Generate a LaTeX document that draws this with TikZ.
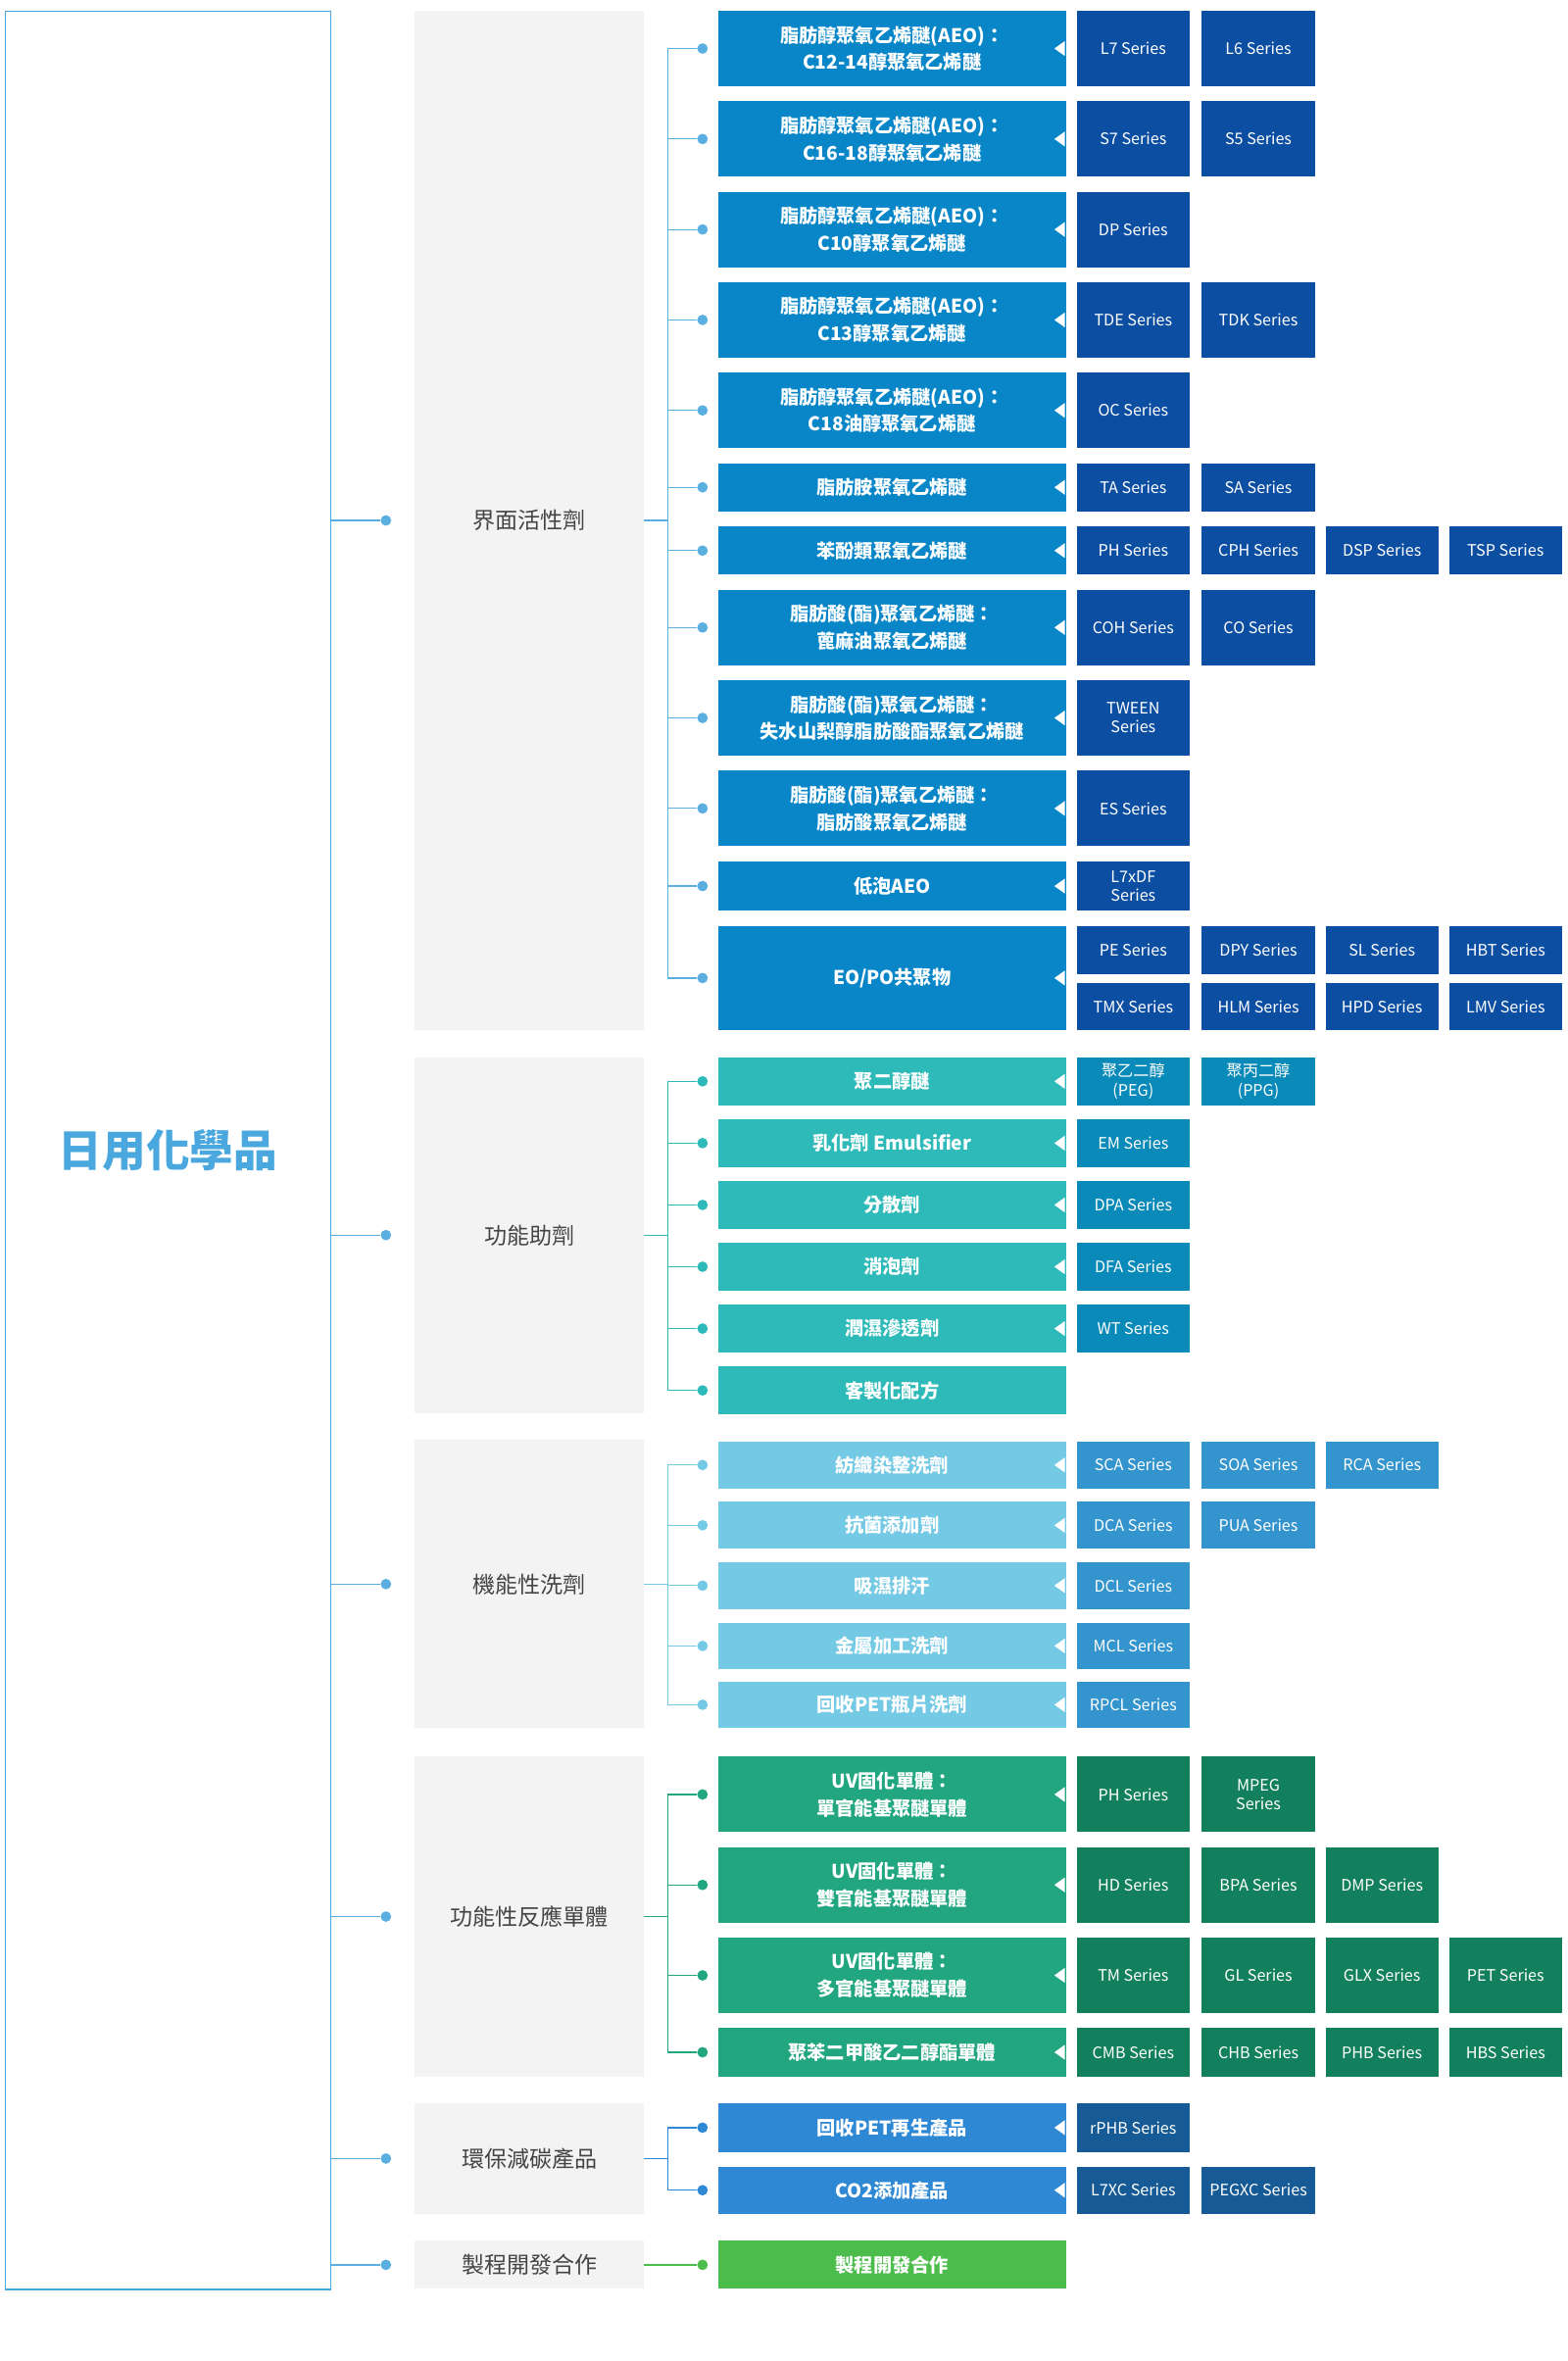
\documentclass[tikz,border=0pt]{standalone}
\usepackage{fontspec}
\setmainfont{Noto Sans CJK TC}
\usetikzlibrary{positioning}

\definecolor{rootblue}{HTML}{4AA8DE}
\definecolor{grayfill}{HTML}{F3F3F3}
\definecolor{graytext}{HTML}{444444}
\definecolor{kidA}{HTML}{0886C8}
\definecolor{serA}{HTML}{0B4EA2}
\definecolor{lineA}{HTML}{5AAEE0}
\definecolor{kidB}{HTML}{2EBAB9}
\definecolor{serB}{HTML}{0A8AB8}
\definecolor{kidC}{HTML}{74C9E5}
\definecolor{serC}{HTML}{3394CE}
\definecolor{kidD}{HTML}{21A67F}
\definecolor{serD}{HTML}{12805D}
\definecolor{kidE}{HTML}{2E88D4}
\definecolor{serE}{HTML}{165A96}
\definecolor{kidF}{HTML}{4CBC4C}

\tikzset{
  kid/.style={anchor=north west, minimum width=231pt, inner sep=0pt, text=white,
    align=center, font=\fontsize{12.5}{18}\selectfont\bfseries},
  ser/.style={anchor=north west, minimum width=75pt, inner sep=0pt, text=white,
    align=center, font=\fontsize{10.5}{12.5}\selectfont},
  grp/.style={anchor=north west, fill=grayfill, minimum width=152pt, inner sep=0pt,
    text=graytext, font=\fontsize{15}{18}\selectfont},
  dot/.style={circle, inner sep=0pt, minimum size=7pt},
  notch/.style={fill=white, draw=none}
}

% kid box: name, top, height, colour, text
\newcommand\kidbox[5]{
  \node[kid, fill=#4, minimum height=#3pt] (#1) at (476,#2) {#5};
  \fill[notch] ([xshift=-1pt]#1.east) ++(0,-5) -- ++(-7,5) -- ++(7,5) -- cycle;
}
% series box: name, column x, top, height, colour, text
\newcommand\serbox[6]{
  \node[ser, fill=#5, minimum height=#4pt] (#1) at (#2,#3) {#6};
}

\begin{document}
\begin{tikzpicture}[x=1pt,y=-1pt]
\useasboundingbox (0,0) rectangle (1040,1566);

\node[draw=rootblue, line width=1pt, anchor=north west, minimum width=216pt, minimum height=1511pt,
  text=rootblue, font=\fontsize{29}{32}\selectfont\bfseries] (root) at (3,7) {日用化學品};

% groups
\node[grp, minimum height=676pt] (g1) at (275,7) {界面活性劑};
\node[grp, minimum height=236pt] (g2) at (275,701) {功能助劑};
\node[grp, minimum height=191pt] (g3) at (275,955) {機能性洗劑};
\node[grp, minimum height=212pt] (g4) at (275,1165) {功能性反應單體};
\node[grp, minimum height=73pt] (g5) at (275,1395) {環保減碳產品};
\node[grp, minimum height=32pt] (g6) at (275,1486) {製程開發合作};

% surfactants
\kidbox{a1}{7}{50}{kidA}{脂肪醇聚氧乙烯醚(AEO)：\\C12-14醇聚氧乙烯醚}
\kidbox{a2}{67}{50}{kidA}{脂肪醇聚氧乙烯醚(AEO)：\\C16-18醇聚氧乙烯醚}
\kidbox{a3}{127}{50}{kidA}{脂肪醇聚氧乙烯醚(AEO)：\\C10醇聚氧乙烯醚}
\kidbox{a4}{187}{50}{kidA}{脂肪醇聚氧乙烯醚(AEO)：\\C13醇聚氧乙烯醚}
\kidbox{a5}{247}{50}{kidA}{脂肪醇聚氧乙烯醚(AEO)：\\C18油醇聚氧乙烯醚}
\kidbox{a6}{307}{32}{kidA}{脂肪胺聚氧乙烯醚}
\kidbox{a7}{349}{32}{kidA}{苯酚類聚氧乙烯醚}
\kidbox{a8}{391}{50}{kidA}{脂肪酸(酯)聚氧乙烯醚：\\蓖麻油聚氧乙烯醚}
\kidbox{a9}{451}{50}{kidA}{脂肪酸(酯)聚氧乙烯醚：\\失水山梨醇脂肪酸酯聚氧乙烯醚}
\kidbox{a10}{511}{50}{kidA}{脂肪酸(酯)聚氧乙烯醚：\\脂肪酸聚氧乙烯醚}
\kidbox{a11}{571}{33}{kidA}{低泡AEO}
\kidbox{a12}{614}{69}{kidA}{EO/PO共聚物}

\serbox{s1a}{714}{7}{50}{serA}{L7 Series}
\serbox{s1b}{797}{7}{50}{serA}{L6 Series}
\serbox{s2a}{714}{67}{50}{serA}{S7 Series}
\serbox{s2b}{797}{67}{50}{serA}{S5 Series}
\serbox{s3a}{714}{127}{50}{serA}{DP Series}
\serbox{s4a}{714}{187}{50}{serA}{TDE Series}
\serbox{s4b}{797}{187}{50}{serA}{TDK Series}
\serbox{s5a}{714}{247}{50}{serA}{OC Series}
\serbox{s6a}{714}{307}{32}{serA}{TA Series}
\serbox{s6b}{797}{307}{32}{serA}{SA Series}
\serbox{s7a}{714}{349}{32}{serA}{PH Series}
\serbox{s7b}{797}{349}{32}{serA}{CPH Series}
\serbox{s7c}{879}{349}{32}{serA}{DSP Series}
\serbox{s7d}{961}{349}{32}{serA}{TSP Series}
\serbox{s8a}{714}{391}{50}{serA}{COH Series}
\serbox{s8b}{797}{391}{50}{serA}{CO Series}
\serbox{s9a}{714}{451}{50}{serA}{TWEEN\\Series}
\serbox{s10a}{714}{511}{50}{serA}{ES Series}
\serbox{s11a}{714}{571}{33}{serA}{L7xDF\\Series}
\serbox{s12a}{714}{614}{32}{serA}{PE Series}
\serbox{s12b}{797}{614}{32}{serA}{DPY Series}
\serbox{s12c}{879}{614}{32}{serA}{SL Series}
\serbox{s12d}{961}{614}{32}{serA}{HBT Series}
\serbox{s12e}{714}{652}{31}{serA}{TMX Series}
\serbox{s12f}{797}{652}{31}{serA}{HLM Series}
\serbox{s12g}{879}{652}{31}{serA}{HPD Series}
\serbox{s12h}{961}{652}{31}{serA}{LMV Series}

% additives
\kidbox{b1}{701}{32}{kidB}{聚二醇醚}
\kidbox{b2}{742}{32}{kidB}{乳化劑 Emulsifier}
\kidbox{b3}{783}{32}{kidB}{分散劑}
\kidbox{b4}{824}{32}{kidB}{消泡劑}
\kidbox{b5}{865}{32}{kidB}{潤濕滲透劑}
\node[kid, fill=kidB, minimum height=32pt] (b6) at (476,906) {客製化配方};

\serbox{t1a}{714}{701}{32}{serB}{聚乙二醇\\(PEG)}
\serbox{t1b}{797}{701}{32}{serB}{聚丙二醇\\(PPG)}
\serbox{t2a}{714}{742}{32}{serB}{EM Series}
\serbox{t3a}{714}{783}{32}{serB}{DPA Series}
\serbox{t4a}{714}{824}{32}{serB}{DFA Series}
\serbox{t5a}{714}{865}{32}{serB}{WT Series}

% detergents
\kidbox{c1}{956}{31}{kidC}{紡織染整洗劑}
\kidbox{c2}{996}{31}{kidC}{抗菌添加劑}
\kidbox{c3}{1036}{31}{kidC}{吸濕排汗}
\kidbox{c4}{1076}{31}{kidC}{金屬加工洗劑}
\kidbox{c5}{1115}{31}{kidC}{回收PET瓶片洗劑}

\serbox{u1a}{714}{956}{31}{serC}{SCA Series}
\serbox{u1b}{797}{956}{31}{serC}{SOA Series}
\serbox{u1c}{879}{956}{31}{serC}{RCA Series}
\serbox{u2a}{714}{996}{31}{serC}{DCA Series}
\serbox{u2b}{797}{996}{31}{serC}{PUA Series}
\serbox{u3a}{714}{1036}{31}{serC}{DCL Series}
\serbox{u4a}{714}{1076}{31}{serC}{MCL Series}
\serbox{u5a}{714}{1115}{31}{serC}{RPCL Series}

% monomers
\kidbox{d1}{1165}{50}{kidD}{UV固化單體：\\單官能基聚醚單體}
\kidbox{d2}{1225}{50}{kidD}{UV固化單體：\\雙官能基聚醚單體}
\kidbox{d3}{1285}{50}{kidD}{UV固化單體：\\多官能基聚醚單體}
\kidbox{d4}{1345}{32}{kidD}{聚苯二甲酸乙二醇酯單體}

\serbox{v1a}{714}{1165}{50}{serD}{PH Series}
\serbox{v1b}{797}{1165}{50}{serD}{MPEG\\Series}
\serbox{v2a}{714}{1225}{50}{serD}{HD Series}
\serbox{v2b}{797}{1225}{50}{serD}{BPA Series}
\serbox{v2c}{879}{1225}{50}{serD}{DMP Series}
\serbox{v3a}{714}{1285}{50}{serD}{TM Series}
\serbox{v3b}{797}{1285}{50}{serD}{GL Series}
\serbox{v3c}{879}{1285}{50}{serD}{GLX Series}
\serbox{v3d}{961}{1285}{50}{serD}{PET Series}
\serbox{v4a}{714}{1345}{32}{serD}{CMB Series}
\serbox{v4b}{797}{1345}{32}{serD}{CHB Series}
\serbox{v4c}{879}{1345}{32}{serD}{PHB Series}
\serbox{v4d}{961}{1345}{32}{serD}{HBS Series}

% green products
\kidbox{e1}{1395}{32}{kidE}{回收PET再生產品}
\kidbox{e2}{1437}{31}{kidE}{CO2添加產品}
\serbox{w1a}{714}{1395}{32}{serE}{rPHB Series}
\serbox{w2a}{714}{1437}{31}{serE}{L7XC Series}
\serbox{w2b}{797}{1437}{31}{serE}{PEGXC Series}

% process
\node[kid, fill=kidF, minimum height=32pt] (f1) at (476,1486) {製程開發合作};

% root connectors
\foreach \g in {g1,g2,g3,g4,g5,g6}{
  \node[dot, fill=lineA] (r\g) at (256,0 |- \g.west) {};
  \draw[lineA, line width=0.8pt] (root.east |- \g.west) -- (r\g);
}

% group connectors
\foreach \g/\c/\list in {g1/lineA/{a1,a2,a3,a4,a5,a6,a7,a8,a9,a10,a11,a12},
    g2/kidB/{b1,b2,b3,b4,b5,b6}, g3/kidC/{c1,c2,c3,c4,c5},
    g4/kidD/{d1,d2,d3,d4}, g5/kidE/{e1,e2}}{
  \coordinate (t\g) at (443,0 |- \g.east);
  \draw[\c, line width=0.8pt] (\g.east) -- (t\g);
  \foreach \k in \list {
    \node[dot, fill=\c] (p\k) at (466,0 |- \k.west) {};
    \draw[\c, line width=0.8pt] (t\g) |- (p\k);
  }
}
\node[dot, fill=kidF] (pf1) at (466,0 |- f1.west) {};
\draw[kidF, line width=0.8pt] (g6.east) -- (pf1);

\end{tikzpicture}
\end{document}
